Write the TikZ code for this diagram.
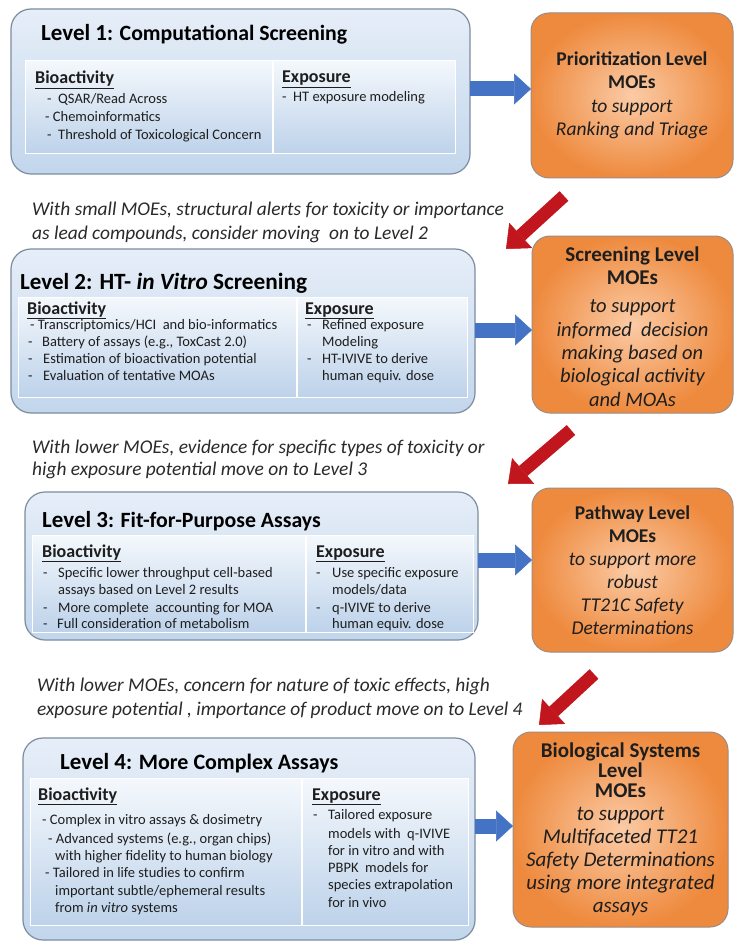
\documentclass[tikz,border=0pt]{standalone}
\usepackage{fontspec}
\setmainfont{Carlito}
\usetikzlibrary{arrows.meta}
\definecolor{lvborder}{HTML}{7D8DA0}
\definecolor{lvtop}{HTML}{E6EEF8}
\definecolor{lvbot}{HTML}{C2D6EC}
\definecolor{pntop}{HTML}{F4F8FC}
\definecolor{pnbot}{HTML}{BDD2EA}
\definecolor{moein}{HTML}{FBCBA6}
\definecolor{moeout}{HTML}{EE8A3E}
\definecolor{moeborder}{HTML}{9A8C84}
\definecolor{bluearr}{HTML}{4472C4}
\definecolor{redarr}{HTML}{C2161E}
\definecolor{txt}{HTML}{1E1E1E}
\definecolor{captxt}{HTML}{2A2A2A}
\newcommand\tl[4]{\node[#2] (#1) at (#3) {#4};}
\newcommand\dsh[1]{\makebox[#1][l]{-}}
\newcommand\sub[1]{\fontsize{#1}{24}\selectfont}
\begin{document}
\begin{tikzpicture}[x=1pt,y=-1pt,
 levelbox/.style={draw=lvborder,line width=1.2pt,rounded corners=20pt,top color=lvtop,bottom color=lvbot,anchor=north west,inner sep=0pt,outer sep=0pt},
 panel/.style={draw=white,line width=1pt,top color=pntop,bottom color=pnbot,anchor=north west,inner sep=0pt,outer sep=0pt},
 moebox/.style={draw=moeborder,line width=1pt,rounded corners=18pt,inner color=moein,outer color=moeout,anchor=north west,inner sep=0pt,outer sep=0pt},
 divider/.style={draw=white,line width=1.2pt},
 txtline/.style={anchor=base west,inner sep=0pt,text=txt},
 titlebig/.style={txtline,font=\fontsize{23}{26}\selectfont\bfseries,text=black},
 head/.style={txtline,font=\fontsize{18}{20}\selectfont\bfseries},
 item/.style={txtline,font=\fontsize{14.5}{18}\selectfont},
 caption/.style={txtline,font=\fontsize{19.4}{24}\selectfont\itshape,text=captxt},
 moetext/.style={align=center,inner sep=0pt,text=txt},
 bluearrow/.style={draw=bluearr,line width=15pt,-{Triangle[length=17pt,width=31pt,line width=0.5pt]}},
 redarrow/.style={draw=redarr,line width=13pt,-{Triangle[length=20pt,width=34pt,line width=0.5pt]}},
]
\fill[white] (0,0) rectangle (735,941);
\useasboundingbox (0,0) rectangle (735,941);

% ---------- Level 1 ----------
\node[levelbox,minimum width=459pt,minimum height=165pt] (L1) at (11,9) {};
\node[panel,minimum width=430pt,minimum height=93pt] (I1) at (25,61) {};
\draw[divider] (273,61) -- (273,154);
\tl{T1}{titlebig}{41,41}{Level 1\sub{21.8}: Computational Screening}
\tl{B1}{head}{35,84}{\underline{Bioactivity}}
\tl{B1a}{item}{47,104}{-\ \ QSAR/Read Across}
\tl{B1b}{item}{45,122}{- Chemoinformatics}
\tl{B1c}{item}{47,140}{-\ \ Threshold of Toxicological Concern}
\tl{E1}{head}{282,83}{\underline{Exposure}}
\tl{E1a}{item}{282,102}{-\ \ HT exposure modeling}

\node[moebox,minimum width=202pt,minimum height=165pt] (P1) at (531,13) {};
\node[moetext,font=\fontsize{19.5}{23.5}\selectfont] (P1t) at (P1.center) {\textbf{Prioritization Level}\\\textbf{MOEs}\\\textit{to support}\\\textit{Ranking and Triage}};
\draw[bluearrow] (L1.east |- 0,89) -- (P1.west |- 0,89);

\tl{C1a}{caption}{32,216}{With small MOEs, structural alerts for toxicity or importance}
\tl{C1b}{caption}{32,240}{as lead compounds, consider moving\ \ on to Level 2}
\coordinate (r1a) at (564,196);
\coordinate (r1b) at (506,249);
\draw[redarrow] (r1a) -- (r1b);

% ---------- Level 2 ----------
\node[levelbox,minimum width=464pt,minimum height=164pt] (L2) at (11,249) {};
\node[panel,minimum width=449pt,minimum height=100pt] (I2) at (18,297) {};
\draw[divider] (297,297) -- (297,397);
\tl{T2}{titlebig}{20,289}{Level 2:\sub{23.3}{} HT- \textit{in Vitro} Screening}
\tl{B2}{head}{27,314}{\underline{Bioactivity}}
\tl{B2a}{item}{30,329}{- Transcriptomics/HCI\ \ and bio-informatics}
\tl{B2b}{item}{28,346}{\dsh{14pt}Battery of assays (e.g., ToxCast 2.0)}
\tl{B2c}{item}{28,363}{\dsh{15pt}Estimation of bioactivation potential}
\tl{B2d}{item}{28,380}{\dsh{15pt}Evaluation of tentative MOAs}
\tl{E2}{head}{305,314}{\underline{Exposure}}
\tl{E2a}{item}{307,329}{\dsh{15pt}Refined exposure}
\tl{E2b}{item}{322,346}{Modeling}
\tl{E2c}{item}{307,363}{\dsh{15pt}HT-IVIVE to derive}
\tl{E2d}{item}{322,380}{human equiv. dose}

\node[moebox,minimum width=201pt,minimum height=177pt] (P2) at (532,236) {};
\node[moetext,font=\fontsize{20.5}{23.3}\selectfont\itshape] (P2t) at ([yshift=-2pt]P2.center) {{\fontsize{21}{23.3}\selectfont\bfseries\upshape Screening Level}\\{\fontsize{21}{23.3}\selectfont\bfseries\upshape MOEs}\\[5pt]to support\\informed\ \ decision\\making based on\\biological activity\\and MOAs};
\draw[bluearrow] (L2.east |- 0,330) -- (P2.west |- 0,330);

\tl{C2a}{caption}{32,453}{With lower MOEs, evidence for specific types of toxicity or}
\tl{C2b}{caption}{32,475}{high exposure potential move on to Level 3}
\coordinate (r2a) at (571,430);
\coordinate (r2b) at (508,484);
\draw[redarrow] (r2a) -- (r2b);

% ---------- Level 3 ----------
\node[levelbox,minimum width=453pt,minimum height=148pt] (L3) at (25,492) {};
\node[panel,minimum width=441pt,minimum height=97pt] (I3) at (32,535) {};
\draw[divider] (306,535) -- (306,632);
\tl{T3}{titlebig}{42,527}{Level 3\sub{21.8}: Fit-for-Purpose Assays}
\tl{B3}{head}{42,557}{\underline{Bioactivity}}
\tl{B3a}{item}{43,577}{\dsh{15pt}Specific lower throughput cell-based}
\tl{B3b}{item}{58,594}{assays based on Level 2 results}
\tl{B3c}{item}{43,612}{\dsh{15pt}More complete\ \ accounting for MOA}
\tl{B3d}{item}{43,628}{\dsh{14pt}Full consideration of metabolism}
\tl{E3}{head}{316,557}{\underline{Exposure}}
\tl{E3a}{item}{316,577}{\dsh{16pt}Use specific exposure}
\tl{E3b}{item}{332,594}{models/data}
\tl{E3c}{item}{316,612}{\dsh{16pt}q-IVIVE to derive}
\tl{E3d}{item}{332,628}{human equiv. dose}

\node[moebox,minimum width=201pt,minimum height=164pt] (P3) at (532,488) {};
\node[moetext,font=\fontsize{19.5}{23}\selectfont] (P3t) at (P3.center) {\textbf{Pathway Level}\\\textbf{MOEs}\\\textit{to support more}\\\textit{robust}\\\textit{TT21C Safety}\\\textit{Determinations}};
\draw[bluearrow] (L3.east |- 0,560) -- (P3.west |- 0,560);

\tl{C3a}{caption}{37,691}{With lower MOEs, concern for nature of toxic effects, high}
\tl{C3b}{caption}{37,715}{exposure potential , importance of product move on to Level 4}
\coordinate (r3a) at (594,674);
\coordinate (r3b) at (539,725);
\draw[redarrow] (r3a) -- (r3b);

% ---------- Level 4 ----------
\node[levelbox,minimum width=452pt,minimum height=202pt] (L4) at (23,738) {};
\node[panel,minimum width=438pt,minimum height=147pt] (I4) at (30,778) {};
\draw[divider] (302,778) -- (302,925);
\tl{T4}{titlebig}{60,769}{Level 4\sub{22}: More Complex Assays}
\tl{B4}{head}{38,800}{\underline{Bioactivity}}
\tl{B4a}{item}{42,824}{- Complex in vitro assays \& dosimetry}
\tl{B4b}{item}{48,843}{- Advanced systems (e.g., organ chips)}
\tl{B4c}{item}{55,860}{with higher fidelity to human biology}
\tl{B4d}{item}{45,877}{- Tailored in life studies to confirm}
\tl{B4e}{item}{55,895}{important subtle/ephemeral results}
\tl{B4f}{item}{55,912}{from \textit{in vitro} systems}
\tl{E4}{head}{312,800}{\underline{Exposure}}
\tl{E4a}{item}{313,819}{\dsh{15pt}Tailored exposure}
\tl{E4b}{item}{328,838}{models with\ \ q-IVIVE}
\tl{E4c}{item}{328,855}{for in vitro and with}
\tl{E4d}{item}{328,872}{PBPK\ \ models for}
\tl{E4e}{item}{328,889}{species extrapolation}
\tl{E4f}{item}{328,907}{for in vivo}

\node[moebox,minimum width=215pt,minimum height=195pt] (P4) at (513,732) {};
\node[moetext,font=\fontsize{21}{23}\selectfont] (P4t) at (P4.center) {\textbf{Biological Systems}\\[-3pt]\textbf{Level}\\[-3pt]\textbf{MOEs}\\\textit{to support}\\\textit{Multifaceted TT21}\\\textit{Safety Determinations}\\\textit{using more integrated}\\\textit{assays}};
\draw[bluearrow] (L4.east |- 0,826) -- (P4.west |- 0,826);
\end{tikzpicture}
\end{document}
